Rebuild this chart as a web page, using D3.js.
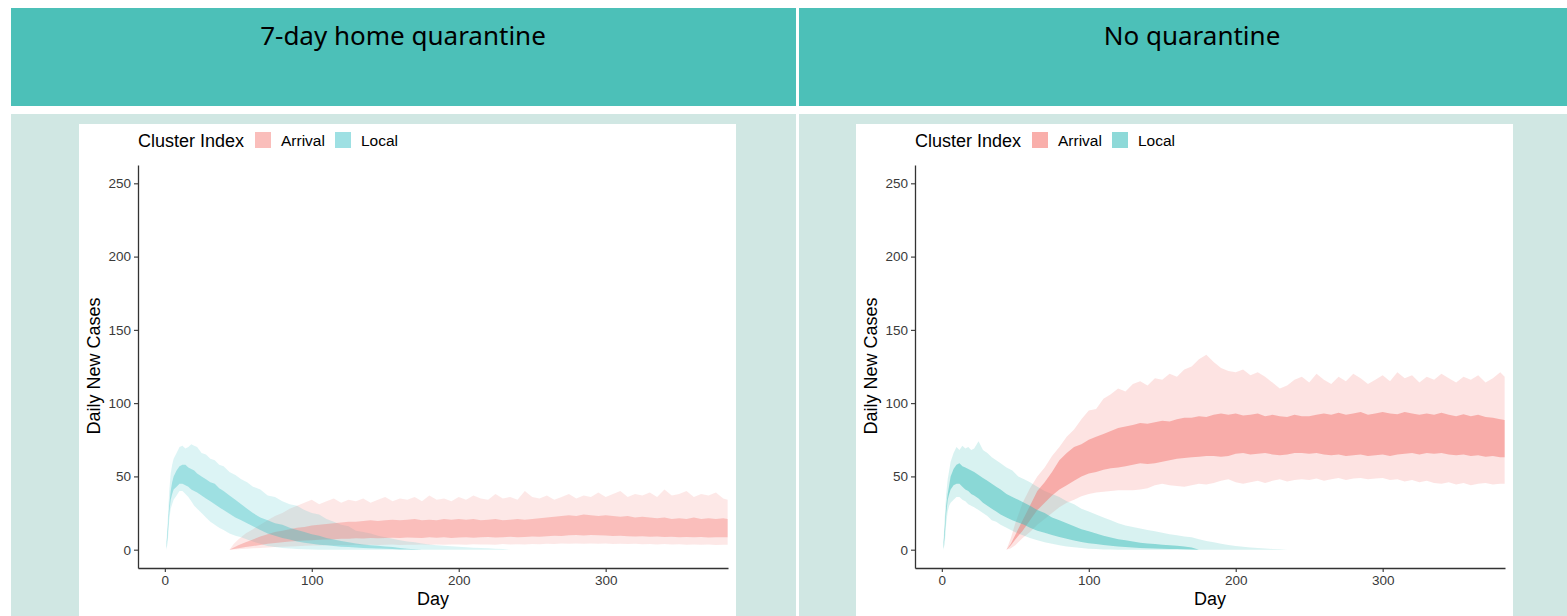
<!DOCTYPE html>
<html>
<head>
<meta charset="utf-8">
<script src="https://cdn.jsdelivr.net/npm/d3@7"></script>
<style>
  body { margin: 0; background: #ffffff; }
  svg { display: block; }
</style>
</head>
<body>
<script>
let w = 1567;
let h = 616;

//days sampled for each cluster
const localDays = [1, 2, 3, 4, 5, 6, 8, 10, 12, 14, 16, 18, 20, 22, 25, 28, 31, 34, 37, 40, 44, 48, 52, 56, 60, 65, 70, 75, 80, 85, 90, 95, 100, 105, 110, 115, 120, 125, 130, 135, 140, 145, 150, 155, 160, 165, 170, 175, 180, 185, 190, 195, 200, 205, 210, 215, 220, 225, 230, 235];
const arrivalDays = [44, 47, 50, 55, 60, 65, 70, 75, 80, 85, 90, 95, 100, 105, 110, 115, 120, 125, 130, 135, 140, 145, 150, 155, 160, 165, 170, 175, 180, 185, 190, 195, 200, 205, 210, 215, 220, 225, 230, 235, 240, 245, 250, 255, 260, 265, 270, 275, 280, 285, 290, 295, 300, 305, 310, 315, 320, 325, 330, 335, 340, 345, 350, 355, 360, 365, 370, 375, 380, 383];

//7-day home quarantine, local clusters
const homeLocalOuterHigh = [3, 20, 40, 52, 58, 62, 66, 70, 71, 69, 70, 72, 71, 70, 66, 65, 62, 61, 58, 57, 53, 51, 48, 46, 43, 41, 37, 36, 33, 31, 30, 27, 25, 24, 21, 19, 17, 16, 13, 12, 11, 9.5, 8.5, 7.5, 6.5, 5.5, 5, 4.2, 3.6, 3, 2.7, 2.3, 2, 1.7, 1.4, 1.1, 0.9, 0.6, 0.4, 0];
const homeLocalInnerHigh = [2, 15, 30, 40, 46, 50, 54, 57, 58, 58, 56, 55, 54, 52, 50, 48, 46, 45, 42, 40, 37, 34, 31, 28, 25, 22, 20, 18, 17, 15, 13.5, 12, 10.5, 9.5, 8, 7, 6, 5, 4.3, 3.6, 3, 2.6, 2.2, 1.8, 1.2, 0.6, 0.3, 0, 0, 0, 0, 0, 0, 0, 0, 0, 0, 0, 0, 0];
const homeLocalInnerLow = [1, 10, 25, 34, 38, 41, 43, 45, 45, 44, 43, 41, 40, 39, 37, 35, 33, 31, 29, 27, 24.5, 22, 20, 18, 16, 13.5, 11, 9.5, 8, 7, 5.5, 4.8, 4, 3.4, 3, 2.5, 2, 1.8, 1.5, 1.2, 1, 0.8, 0.6, 0.4, 0.2, 0.1, 0, 0, 0, 0, 0, 0, 0, 0, 0, 0, 0, 0, 0, 0];
const homeLocalOuterLow = [0, 5, 20, 28, 31, 34, 37, 40, 40, 38, 36, 33, 30, 28, 25, 22, 19, 17, 15, 13.5, 11, 9.5, 8.5, 7, 5.5, 4, 2.5, 1.8, 1.2, 0.8, 0.5, 0.3, 0.1, 0, 0, 0, 0, 0, 0, 0, 0, 0, 0, 0, 0, 0, 0, 0, 0, 0, 0, 0, 0, 0, 0, 0, 0, 0, 0, 0];

//7-day home quarantine, arrival clusters
const homeArrivalOuterHigh = [0, 4, 7, 11, 14, 17, 20, 23, 25, 28, 30, 32, 34, 31, 33, 35, 32, 34, 33, 35, 32, 34, 36, 33, 35, 34, 36, 33, 37, 34, 35, 33, 36, 34, 37, 35, 34, 38, 35, 36, 34, 40, 36, 35, 37, 34, 36, 38, 35, 37, 36, 39, 36, 38, 40, 36, 38, 37, 39, 36, 41, 37, 38, 40, 36, 38, 37, 39, 35, 34];
const homeArrivalInnerHigh = [0, 1.5, 3, 5, 7, 9, 10.5, 12, 13, 14, 15, 15.5, 16.5, 17, 17.5, 18, 18.5, 19, 19, 19.5, 20, 19.5, 20, 20.5, 20, 20.5, 21, 20, 20.5, 20, 21, 20.5, 21, 20.5, 21, 20, 20.5, 21, 20, 20.5, 21, 20.5, 21, 21.5, 22, 22.5, 23, 23.5, 23, 24, 23.5, 23, 23.5, 23, 22.5, 23, 22, 22.5, 22, 21.5, 22, 21, 21.5, 21, 22, 21, 21.5, 21, 21.5, 21];
const homeArrivalInnerLow = [0, 0.5, 1, 1.8, 2.5, 3.2, 4, 4.5, 5, 5.5, 6, 6.2, 6.5, 6.8, 7, 7.2, 7.5, 7.5, 7.8, 7.7, 8, 7.8, 8, 8.2, 8, 8.3, 8.2, 8, 8.5, 8.2, 8.4, 8, 8.3, 8.5, 8.2, 8.4, 8.6, 8.3, 8.5, 8.8, 8.5, 8.7, 9, 8.8, 9.2, 9.5, 9.3, 9.8, 10, 9.6, 10, 9.8, 9.6, 9.4, 9.5, 9.2, 9, 9.2, 8.8, 9, 8.7, 8.9, 8.5, 8.7, 8.4, 8.6, 8.3, 8.5, 8.4, 8.4];
const homeArrivalOuterLow = [0, 0.1, 0.3, 0.6, 0.9, 1.2, 1.5, 1.8, 2, 2.2, 2.4, 2.6, 2.8, 2.9, 3, 3.1, 3.2, 3, 3.3, 3.1, 3.4, 3.2, 3.3, 3.5, 3.2, 3.4, 3.3, 3.6, 3.4, 3.5, 3.3, 3.6, 3.5, 3.4, 3.7, 3.5, 3.6, 3.4, 3.8, 3.6, 3.7, 3.5, 3.9, 3.7, 4, 3.8, 4.2, 4, 4.3, 4.1, 4.3, 4, 4.2, 3.9, 4.1, 3.8, 4, 3.7, 3.9, 3.6, 3.8, 3.5, 3.7, 3.4, 3.6, 3.3, 3.5, 3.2, 3.4, 3.3];

//no quarantine, local clusters
const noneLocalOuterHigh = [3, 22, 38, 48, 54, 60, 66, 70, 68, 71, 69, 70, 68, 69, 74, 68, 66, 63, 61, 59, 56, 54, 50, 48, 46, 43, 40, 38, 36, 33, 31, 28, 26, 24, 22, 20, 18, 16.5, 15.5, 14.5, 13.5, 12.5, 11.5, 10.5, 9.8, 9, 8.4, 7.2, 6, 5, 4, 3.2, 2.5, 2, 1.5, 1.1, 0.8, 0.5, 0.3, 0];
const noneLocalInnerHigh = [2, 15, 30, 38, 44, 50, 55, 58, 59, 57, 56, 55, 54, 53, 51, 49, 47, 45, 43, 41, 38, 36, 34, 32, 30, 27, 25, 22, 20, 18, 16, 14, 12.5, 11, 9.5, 8.3, 7.2, 6.4, 5.5, 4.8, 4.2, 3.8, 3.4, 3, 2.6, 2.2, 1.5, 0, 0, 0, 0, 0, 0, 0, 0, 0, 0, 0, 0, 0];
const noneLocalInnerLow = [1, 10, 25, 34, 38, 41, 44, 45, 45, 43, 41, 40, 38, 37, 35, 32, 30, 28, 26, 24, 22, 20, 18.5, 17, 15, 13, 11.5, 10, 8.6, 7.4, 6.2, 5.2, 4.4, 3.8, 3.2, 2.6, 2.1, 1.8, 1.5, 1.2, 1, 0.8, 0.6, 0.5, 0.4, 0.3, 0.2, 0, 0, 0, 0, 0, 0, 0, 0, 0, 0, 0, 0, 0];
const noneLocalOuterLow = [0, 4, 18, 26, 30, 32, 34, 36, 36, 34, 33, 31, 30, 29, 27, 25, 23, 20, 19, 17, 15, 13, 11, 9.5, 8, 6.5, 5, 4, 3, 2.2, 1.6, 1.1, 0.7, 0.4, 0.2, 0.1, 0, 0, 0, 0, 0, 0, 0, 0, 0, 0, 0, 0, 0, 0, 0, 0, 0, 0, 0, 0, 0, 0, 0, 0];

//no quarantine, arrival clusters
const noneArrivalOuterHigh = [0, 8, 18, 32, 42, 50, 56, 64, 70, 77, 82, 89, 95, 96, 103, 106, 110, 108, 113, 115, 112, 117, 116, 120, 118, 123, 125, 130, 133, 128, 124, 122, 121, 123, 119, 121, 118, 114, 110, 112, 116, 118, 114, 120, 116, 113, 118, 115, 120, 117, 113, 116, 119, 115, 121, 117, 119, 114, 118, 116, 120, 117, 114, 118, 116, 119, 114, 117, 121, 118];
const noneArrivalInnerHigh = [0, 4, 10, 20, 30, 40, 46, 53, 61, 66, 70, 72, 75, 77, 79, 81, 83, 84, 85, 86.5, 86, 87, 88, 87.5, 89, 90, 90, 91, 90.5, 92, 93, 92, 93, 91.5, 92, 93, 91, 92, 91, 90.5, 92, 91, 91, 92, 93, 92, 93.5, 92, 93, 94, 92, 93, 94, 93, 92.5, 94, 93, 92, 93, 92, 93.5, 92, 91, 92.5, 91, 92, 90.5, 90, 89, 88.5];
const noneArrivalInnerLow = [0, 3, 7, 13, 20, 27, 32, 37, 41, 44, 47, 50, 52, 53, 54.5, 55.5, 56, 57, 58, 59, 58.5, 59, 60, 61, 62, 62.5, 63, 63.5, 64, 64, 63.5, 64, 65.5, 66, 65, 65.5, 66, 65, 64.5, 65, 66, 66, 65.5, 66, 65, 64.5, 65, 64, 64.5, 65, 64, 64.5, 65, 64, 65, 65.5, 66, 65, 66, 65.5, 66, 65, 64.5, 65, 64, 64.5, 63.5, 64, 63, 63];
const noneArrivalOuterLow = [0, 1, 3, 8, 12, 17, 21, 25, 29, 32, 34, 36.5, 38, 39, 39.5, 40, 40.5, 40.6, 40.5, 41, 42, 44, 45, 44, 43.5, 43, 44, 45, 44.5, 45.5, 47, 48, 46, 45, 46, 47, 45.5, 47, 48, 46.5, 47.5, 48, 47.5, 48.5, 47, 48, 49, 47.5, 48.5, 49, 48, 48.5, 49, 47.5, 48, 46.5, 47.5, 46, 47, 45.5, 45, 46, 44.5, 45.5, 44, 45, 45.5, 44.5, 45, 45];

//axis ticks and legend
const xTicks = [0, 100, 200, 300];
const yTicks = [0, 50, 100, 150, 200, 250];
const legendKeys = ["Arrival", "Local"];
const panelTitles = ["7-day home quarantine", "No quarantine"];

//create our svg
let svg = d3.select("body").append("svg").attr("width", w).attr("height", h);

//turn three arrays into rows for an area
function makeRows(days, lo, hi) {
  return days.map(function (d, i) {
    return { day: d, lo: lo[i], hi: hi[i] };
  });
}

//draw one panel, dx is how far the plot is moved to the right
function drawPanel(panelX, panelW, dx, title, titleX, local, arrival, colors, alphaOuter, alphaInner, alphaKey) {
  //teal header
  svg.append("rect")
    .attr("x", panelX)
    .attr("y", 8)
    .attr("width", panelW)
    .attr("height", 98)
    .attr("fill", "#4CC0B8");

  svg.append("text")
    .text(title)
    .attr("x", titleX)
    .attr("y", 45)
    .attr("text-anchor", "middle")
    .attr("font-family", "Noto Sans")
    .attr("font-size", 26)
    .attr("fill", "#000000");

  //light background and white plot box
  svg.append("rect")
    .attr("x", panelX)
    .attr("y", 114)
    .attr("width", panelW)
    .attr("height", h - 114)
    .attr("fill", "#D0E7E3");

  svg.append("rect")
    .attr("x", 79 + dx)
    .attr("y", 124)
    .attr("width", 657)
    .attr("height", h - 124)
    .attr("fill", "#ffffff");

  let x = d3.scaleLinear().domain([-18.25, 383.25]).range([138 + dx, 728 + dx]);
  let y = d3.scaleLinear().domain([-12.5, 262.5]).range([568, 165]);

  let area = d3.area()
    .x(function (d) { return x(d.day); })
    .y0(function (d) { return y(d.lo); })
    .y1(function (d) { return y(d.hi); });

  let bands = [
    { rows: makeRows(arrivalDays, arrival[0], arrival[3]), color: colors[0], a: alphaOuter },
    { rows: makeRows(localDays, local[0], local[3]), color: colors[1], a: alphaOuter },
    { rows: makeRows(arrivalDays, arrival[1], arrival[2]), color: colors[0], a: alphaInner },
    { rows: makeRows(localDays, local[1], local[2]), color: colors[1], a: alphaInner },
  ];

  svg.append("g")
    .selectAll("path")
    .data(bands)
    .enter()
    .append("path")
    .attr("d", function (d) { return area(d.rows); })
    .attr("fill", function (d) { return d.color; })
    .attr("fill-opacity", function (d) { return d.a; });

  //axes
  let xAxis = svg.append("g")
    .attr("transform", "translate(0,568)")
    .call(d3.axisBottom(x).tickValues(xTicks).tickSize(4).tickPadding(3).tickSizeOuter(0));
  let yAxis = svg.append("g")
    .attr("transform", "translate(" + (138 + dx) + ",0)")
    .call(d3.axisLeft(y).tickValues(yTicks).tickSize(4).tickPadding(3).tickSizeOuter(0));

  [xAxis, yAxis].forEach(function (g) {
    g.select(".domain").attr("stroke", "#333333").attr("stroke-width", 1.3);
    g.selectAll(".tick line").attr("stroke", "#333333").attr("stroke-width", 1.1);
    g.selectAll(".tick text")
      .attr("fill", "#3A3A3A")
      .attr("font-family", "Liberation Sans")
      .attr("font-size", 13.5);
  });

  svg.append("text")
    .text("Day")
    .attr("x", 433 + dx)
    .attr("y", 605)
    .attr("text-anchor", "middle")
    .attr("font-family", "Liberation Sans")
    .attr("font-size", 18)
    .attr("fill", "#000000");

  svg.append("text")
    .text("Daily New Cases")
    .attr("transform", "translate(" + (100 + dx) + ",366) rotate(-90)")
    .attr("text-anchor", "middle")
    .attr("font-family", "Liberation Sans")
    .attr("font-size", 18)
    .attr("fill", "#000000");

  //legend
  svg.append("text")
    .text("Cluster Index")
    .attr("x", 138 + dx)
    .attr("y", 147)
    .attr("font-family", "Liberation Sans")
    .attr("font-size", 18)
    .attr("fill", "#000000");

  let keyX = [255, 335];
  legendKeys.forEach(function (k, i) {
    svg.append("rect")
      .attr("x", keyX[i] + dx)
      .attr("y", 132)
      .attr("width", 16)
      .attr("height", 16)
      .attr("fill", colors[i])
      .attr("fill-opacity", alphaKey);
    svg.append("text")
      .text(k)
      .attr("x", keyX[i] + dx + 26)
      .attr("y", 146)
      .attr("font-family", "Liberation Sans")
      .attr("font-size", 15.5)
      .attr("fill", "#000000");
  });
}

drawPanel(11, 785, 0, panelTitles[0], 403,
  [homeLocalOuterLow, homeLocalInnerLow, homeLocalInnerHigh, homeLocalOuterHigh],
  [homeArrivalOuterLow, homeArrivalInnerLow, homeArrivalInnerHigh, homeArrivalOuterHigh],
  ["#F4756F", "#31BDC3"], 0.17, 0.36, 0.47);

drawPanel(799, 768, 777, panelTitles[1], 1192,
  [noneLocalOuterLow, noneLocalInnerLow, noneLocalInnerHigh, noneLocalOuterHigh],
  [noneArrivalOuterLow, noneArrivalInnerLow, noneArrivalInnerHigh, noneArrivalOuterHigh],
  ["#F4756F", "#3CBEBB"], 0.2, 0.5, 0.58);
</script>
</body>
</html>
